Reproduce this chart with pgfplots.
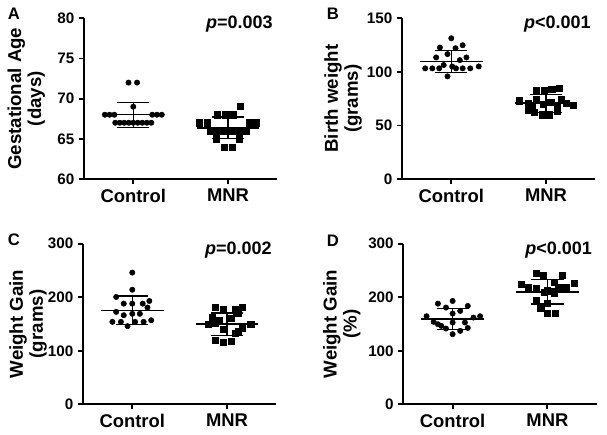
\documentclass[border=0pt]{standalone}
\usepackage{fontspec}
\setmainfont{Liberation Sans}
\usepackage{pgfplots}
\pgfplotsset{compat=1.18}

\pgfplotsset{
 panel/.style={
  scale only axis, width=145pt, height=120.5pt,
  axis lines=left,
  axis line style={line width=1.4pt, -},
  xmin=-0.52, xmax=1.52,
  xtick={0,1}, xticklabels={Control,MNR},
  tick align=outside,
  major tick length=3.75pt,
  tick style={black, line width=1.4pt},
  x tick label style={font=\fontsize{13.8}{15}\selectfont\bfseries},
  y tick label style={font=\fontsize{11.4}{13}\selectfont\bfseries},
  /pgf/number format/assume math mode=true,
  clip=false,
 },
 ylab/.style={ylabel style={font=\fontsize{14}{15}\selectfont\bfseries, align=center,
   at={([xshift=-#1]rel axis cs:0,0.5)}, anchor=south, inner sep=0pt}},
 ctrl/.style={only marks, mark=*, mark size=2pt, black},
 mnr/.style={only marks, mark=square*, mark size=2.3pt, black},
 meanl/.style={black, line width=1.1pt},
 sdl/.style={black, line width=0.9pt},
}
\tikzset{pval/.style={anchor=base east, font=\fontsize{13.5}{15}\selectfont\bfseries}}

\begin{document}
\begin{tikzpicture}
\path[use as bounding box] (0,0) rectangle (455.25pt,326.25pt);

% ---------- A ----------
\begin{axis}[panel, at={(63pt,192pt)}, anchor=south west,
  ymin=60, ymax=80, ytick={60,65,70,75,80},
  ylab=29pt, ylabel={Gestational Age\\(days)}]
\addplot[ctrl] coordinates {(-0.05,72) (0.04,72) (0,69)
 (-0.30,68) (-0.25,68) (-0.20,68) (0.20,68) (0.25,68) (0.30,68)
 (-0.19,67) (-0.1425,67) (-0.095,67) (-0.0475,67) (0,67) (0.0475,67) (0.095,67) (0.1425,67) (0.19,67)};
\addplot[mnr] coordinates {(1.126,69) (0.89,68) (0.97,68) (1.05,68)
 (0.70,67) (0.78,67) (1.22,67) (1.30,67)
 (0.81,66) (0.873,66) (0.937,66) (1.0,66) (1.063,66) (1.127,66) (1.19,66)
 (0.88,65) (1.12,65) (0.96,64) (1.045,64)};
\addplot[meanl] coordinates {(-0.33,68) (0.33,68)};
\addplot[sdl] coordinates {(0,66.43) (0,69.57)};
\addplot[sdl] coordinates {(-0.17,69.57) (0.17,69.57)};
\addplot[sdl] coordinates {(-0.17,66.43) (0.17,66.43)};
\addplot[meanl] coordinates {(0.67,66.37) (1.33,66.37)};
\addplot[sdl] coordinates {(1,65.03) (1,67.71)};
\addplot[sdl] coordinates {(0.83,67.71) (1.17,67.71)};
\addplot[sdl] coordinates {(0.83,65.03) (1.17,65.03)};
\node[pval] at (rel axis cs:1,0.935) {\textit{p}=0.003};
\end{axis}

% ---------- B ----------
\begin{axis}[panel, at={(301.5pt,192pt)}, anchor=south west,
  ymin=0, ymax=150, ytick={0,50,100,150},
  ylab=30pt, ylabel={Birth weight\\(grams)}]
\addplot[ctrl] coordinates {(0,131.4) (-0.12,122.7) (0.045,122.1) (0.12,124.9)
 (-0.16,113.5) (-0.04,116.6) (0.09,111) (0.16,113.5)
 (-0.275,103.3) (-0.2,103.3) (-0.127,103.3) (0.05,103.3) (0.12,103.3) (0.2,103.3)
 (0.29,105.1) (-0.08,106.4) (0.01,105) (-0.04,95.8)};
\addplot[mnr] coordinates {(0.90,83) (0.98,83) (1.06,84) (1.14,85)
 (0.72,73) (0.81,71) (0.85,69) (0.90,74) (0.97,70) (1.05,72) (1.12,69) (1.16,74) (1.21,71) (1.29,69)
 (0.81,64) (0.88,62) (0.96,60) (1.03,60) (1.12,63)};
\addplot[meanl] coordinates {(-0.33,109.7) (0.33,109.7)};
\addplot[sdl] coordinates {(0,99.5) (0,119.7)};
\addplot[sdl] coordinates {(-0.17,119.7) (0.17,119.7)};
\addplot[sdl] coordinates {(-0.17,99.5) (0.17,99.5)};
\addplot[meanl] coordinates {(0.67,70.8) (1.33,70.8)};
\addplot[sdl] coordinates {(1,62.4) (1,78.6)};
\addplot[sdl] coordinates {(0.83,78.6) (1.17,78.6)};
\addplot[sdl] coordinates {(0.83,62.4) (1.17,62.4)};
\node[pval] at (rel axis cs:1,0.935) {\textit{p}<0.001};
\end{axis}

% ---------- C ----------
\begin{axis}[panel, at={(62.25pt,23pt)}, anchor=south west,
  ymin=0, ymax=300, ytick={0,100,200,300},
  ylab=27pt, ylabel={Weight Gain\\(grams)}]
\addplot[ctrl] coordinates {(0,246) (0,214) (-0.17,200.5) (0.18,193) (-0.09,188) (0,188) (0.11,188)
 (0.16,180.7) (-0.17,172.6) (-0.09,166.4) (0,169) (0.08,169)
 (-0.21,154) (-0.12,154) (-0.05,146) (0.03,154) (0.12,154) (0.2,157)};
\addplot[mnr] coordinates {(0.88,182) (0.96,177) (1.09,177) (1.16,182) (1.12,169.5) (0.84,162) (0.92,157)
 (1.04,160) (0.8,149) (0.88,152) (1.25,149) (0.96,139.7) (1.16,141.6) (1.09,133.4) (1.12,136)
 (0.88,119.8) (0.96,116.6) (1.04,118) (1.1,172)};
\addplot[meanl] coordinates {(-0.33,175.7) (0.33,175.7)};
\addplot[sdl] coordinates {(0,149) (0,202.4)};
\addplot[sdl] coordinates {(-0.17,202.4) (0.17,202.4)};
\addplot[sdl] coordinates {(-0.17,149) (0.17,149)};
\addplot[meanl] coordinates {(0.67,150.2) (1.33,150.2)};
\addplot[sdl] coordinates {(1,129) (1,170.7)};
\addplot[sdl] coordinates {(0.83,170.7) (1.17,170.7)};
\addplot[sdl] coordinates {(0.83,129) (1.17,129)};
\node[pval] at (rel axis cs:1,0.935) {\textit{p}=0.002};
\end{axis}

% ---------- D ----------
\begin{axis}[panel, at={(302.5pt,23pt)}, anchor=south west,
  ymin=0, ymax=300, ytick={0,100,200,300},
  ylab=32pt, ylabel={Weight Gain\\(\%)}]
\addplot[ctrl] coordinates {(0,193) (-0.155,188) (-0.07,180.7) (0.16,183.7) (0.08,174.4) (0,169.5)
 (-0.275,164.5) (0.29,164.5) (0.22,162) (-0.2,154) (-0.155,149.6) (-0.12,146.5) (0,152.8)
 (0.13,152.8) (-0.07,141.6) (0.08,137.2) (0.16,142.7) (0,131)};
\addplot[mnr] coordinates {(0.88,245.3) (0.96,241) (1.16,241) (1.07,228.5) (0.72,224) (1.28,225.4)
 (0.8,218) (0.88,216) (1.2,218) (1.12,219) (0.97,208.6) (1.04,211.7) (1.07,206.8) (0.88,194.3)
 (1.0,189.3) (0.93,178.9) (1.0,170.7) (1.08,170.7) (1.0,212)};
\addplot[meanl] coordinates {(-0.33,159) (0.33,159)};
\addplot[sdl] coordinates {(0,140.3) (0,178.9)};
\addplot[sdl] coordinates {(-0.17,178.9) (0.17,178.9)};
\addplot[sdl] coordinates {(-0.17,140.3) (0.17,140.3)};
\addplot[meanl] coordinates {(0.67,209.8) (1.33,209.8)};
\addplot[sdl] coordinates {(1,187.5) (1,233.5)};
\addplot[sdl] coordinates {(0.83,233.5) (1.17,233.5)};
\addplot[sdl] coordinates {(0.83,187.5) (1.17,187.5)};
\node[pval] at (rel axis cs:1,0.935) {\textit{p}<0.001};
\end{axis}

\node[font=\fontsize{12.5}{14}\selectfont\bfseries] at (10.5pt,315.75pt) {A};
\node[font=\fontsize{12.5}{14}\selectfont\bfseries] at (249.75pt,315.75pt) {B};
\node[font=\fontsize{12.5}{14}\selectfont\bfseries] at (10.5pt,146.25pt) {C};
\node[font=\fontsize{12.5}{14}\selectfont\bfseries] at (249.75pt,145.5pt) {D};
\end{tikzpicture}
\end{document}
